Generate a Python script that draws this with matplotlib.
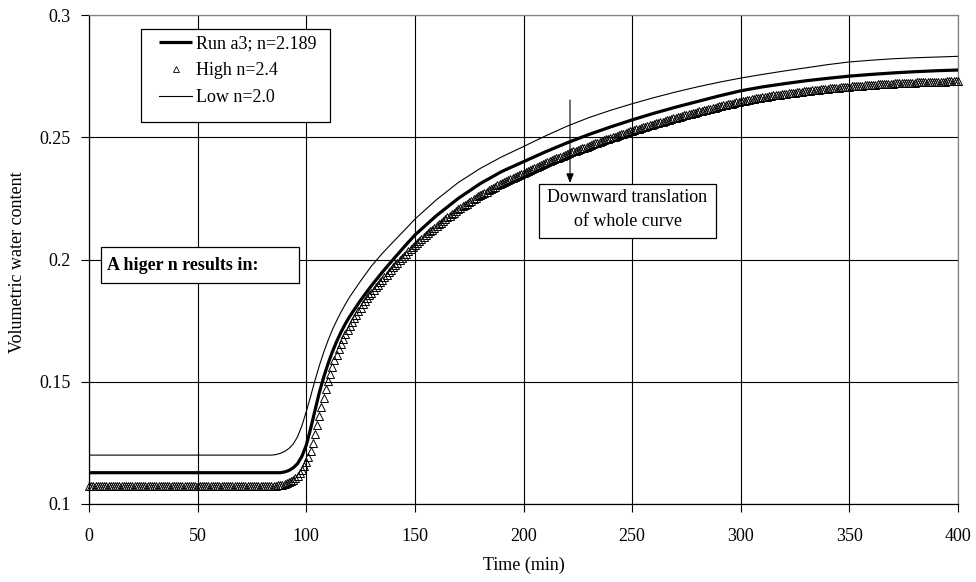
import numpy as np
import matplotlib
matplotlib.use("Agg")
import matplotlib.pyplot as plt
from matplotlib.patches import Rectangle
from matplotlib.lines import Line2D

plt.rcParams['font.family'] = ['Liberation Serif', 'DejaVu Serif']

# ---- data -------------------------------------------------------------
# Run a3 (fitted n = 2.189)
run_t = [0, 88, 90, 92, 94, 96, 98, 100, 102, 104, 106, 108, 110, 112, 114, 116,
         118, 120, 125, 130, 135, 140, 145, 150, 160, 170, 180, 190, 200, 210,
         220, 230, 240, 250, 260, 270, 280, 290, 300, 310, 320, 330, 340, 350,
         360, 370, 380, 390, 400]
run_theta = [0.1128, 0.1128, 0.1131, 0.1137, 0.1148, 0.1165, 0.1195, 0.1240,
             0.1308, 0.1382, 0.1455, 0.1518, 0.1573, 0.1622, 0.1665, 0.1703,
             0.1737, 0.1767, 0.1833, 0.1893, 0.1948, 0.2000, 0.2051, 0.2100,
             0.2180, 0.2250, 0.2310, 0.2360, 0.2400, 0.2440, 0.2477, 0.2511,
             0.2542, 0.2571, 0.2598, 0.2623, 0.2646, 0.2669, 0.2690, 0.2706,
             0.2719, 0.2731, 0.2741, 0.2750, 0.2757, 0.2763, 0.2768, 0.2772,
             0.2775]

# Low n = 2.0
low_t = [0, 84, 86, 88, 90, 92, 94, 96, 98, 100, 102, 104, 106, 108, 110, 112,
         114, 116, 118, 120, 125, 130, 135, 140, 145, 150, 160, 170, 180, 190,
         200, 210, 220, 230, 240, 250, 260, 270, 280, 290, 300, 310, 320, 330,
         340, 350, 360, 370, 380, 390, 400]
low_theta = [0.1200, 0.1200, 0.1202, 0.1207, 0.1215, 0.1227, 0.1245, 0.1275,
             0.1320, 0.1378, 0.1440, 0.1505, 0.1565, 0.1620, 0.1668, 0.1712,
             0.1750, 0.1785, 0.1817, 0.1847, 0.1912, 0.1973, 0.2025, 0.2072,
             0.2118, 0.2165, 0.2245, 0.2315, 0.2372, 0.2420, 0.2462, 0.2505,
             0.2545, 0.2580, 0.2610, 0.2637, 0.2662, 0.2685, 0.2706, 0.2725,
             0.2742, 0.2757, 0.2771, 0.2784, 0.2797, 0.2808, 0.2815, 0.2821,
             0.2825, 0.2828, 0.2831]

# High n = 2.4: one output value per minute, 0 - 400 min, shown as markers
high_t = np.arange(0, 401)
high_theta = [
    # 0 - 86 min
    0.1075, 0.1075, 0.1075, 0.1075, 0.1075, 0.1075, 0.1075, 0.1075, 0.1075, 0.1075,
    0.1075, 0.1075, 0.1075, 0.1075, 0.1075, 0.1075, 0.1075, 0.1075, 0.1075, 0.1075,
    0.1075, 0.1075, 0.1075, 0.1075, 0.1075, 0.1075, 0.1075, 0.1075, 0.1075, 0.1075,
    0.1075, 0.1075, 0.1075, 0.1075, 0.1075, 0.1075, 0.1075, 0.1075, 0.1075, 0.1075,
    0.1075, 0.1075, 0.1075, 0.1075, 0.1075, 0.1075, 0.1075, 0.1075, 0.1075, 0.1075,
    0.1075, 0.1075, 0.1075, 0.1075, 0.1075, 0.1075, 0.1075, 0.1075, 0.1075, 0.1075,
    0.1075, 0.1075, 0.1075, 0.1075, 0.1075, 0.1075, 0.1075, 0.1075, 0.1075, 0.1075,
    0.1075, 0.1075, 0.1075, 0.1075, 0.1075, 0.1075, 0.1075, 0.1075, 0.1075, 0.1075,
    0.1075, 0.1075, 0.1075, 0.1075, 0.1075, 0.1075, 0.1075,
    # 87 - 150 min
    0.1076, 0.1077, 0.1079, 0.1081, 0.1084, 0.1088, 0.1093, 0.1099, 0.1107,
    0.1116, 0.1127, 0.1140, 0.1154, 0.1170, 0.1192, 0.1218, 0.1250, 0.1285,
    0.1322, 0.1360, 0.1398, 0.1435, 0.1470, 0.1503, 0.1533, 0.1561, 0.1587,
    0.1611, 0.1634, 0.1655, 0.1675, 0.1694, 0.1712, 0.1729, 0.1745, 0.1760,
    0.1775, 0.1789, 0.1803, 0.1816, 0.1829, 0.1841, 0.1853, 0.1864, 0.1875,
    0.1886, 0.1897, 0.1907, 0.1917, 0.1928, 0.1938, 0.1948, 0.1958, 0.1968,
    0.1977, 0.1987, 0.1996, 0.2006, 0.2015, 0.2024, 0.2033, 0.2042, 0.2051,
    0.2060,
    # 151 - 400 min
    0.2068, 0.2076, 0.2084, 0.2092, 0.2100, 0.2107, 0.2115, 0.2122, 0.2130, 0.2137,
    0.2144, 0.2151, 0.2158, 0.2165, 0.2172, 0.2178, 0.2185, 0.2192, 0.2199, 0.2205,
    0.2211, 0.2217, 0.2223, 0.2229, 0.2235, 0.2240, 0.2246, 0.2252, 0.2258, 0.2263,
    0.2268, 0.2273, 0.2278, 0.2283, 0.2288, 0.2293, 0.2298, 0.2303, 0.2308, 0.2312,
    0.2317, 0.2321, 0.2325, 0.2329, 0.2334, 0.2338, 0.2342, 0.2346, 0.2350, 0.2354,
    0.2358, 0.2362, 0.2366, 0.2370, 0.2375, 0.2379, 0.2383, 0.2387, 0.2391, 0.2395,
    0.2399, 0.2402, 0.2406, 0.2410, 0.2414, 0.2417, 0.2421, 0.2424, 0.2428, 0.2431,
    0.2435, 0.2438, 0.2442, 0.2445, 0.2449, 0.2452, 0.2455, 0.2458, 0.2462, 0.2465,
    0.2468, 0.2471, 0.2475, 0.2478, 0.2481, 0.2484, 0.2488, 0.2491, 0.2494, 0.2497,
    0.2500, 0.2503, 0.2506, 0.2509, 0.2512, 0.2515, 0.2518, 0.2521, 0.2524, 0.2527,
    0.2530, 0.2532, 0.2535, 0.2538, 0.2541, 0.2543, 0.2546, 0.2549, 0.2552, 0.2554,
    0.2557, 0.2559, 0.2562, 0.2564, 0.2567, 0.2569, 0.2572, 0.2574, 0.2577, 0.2579,
    0.2582, 0.2584, 0.2587, 0.2589, 0.2592, 0.2594, 0.2596, 0.2598, 0.2601, 0.2603,
    0.2606, 0.2608, 0.2610, 0.2612, 0.2615, 0.2617, 0.2619, 0.2621, 0.2624, 0.2626,
    0.2628, 0.2630, 0.2632, 0.2634, 0.2636, 0.2638, 0.2641, 0.2643, 0.2645, 0.2647,
    0.2649, 0.2650, 0.2652, 0.2654, 0.2656, 0.2657, 0.2659, 0.2660, 0.2662, 0.2663,
    0.2665, 0.2666, 0.2668, 0.2669, 0.2671, 0.2672, 0.2673, 0.2674, 0.2676, 0.2677,
    0.2678, 0.2679, 0.2681, 0.2682, 0.2683, 0.2684, 0.2686, 0.2687, 0.2688, 0.2689,
    0.2690, 0.2691, 0.2692, 0.2693, 0.2694, 0.2695, 0.2696, 0.2697, 0.2698, 0.2699,
    0.2700, 0.2701, 0.2702, 0.2702, 0.2703, 0.2704, 0.2705, 0.2705, 0.2706, 0.2707,
    0.2708, 0.2708, 0.2709, 0.2710, 0.2711, 0.2711, 0.2712, 0.2713, 0.2714, 0.2714,
    0.2715, 0.2715, 0.2716, 0.2716, 0.2717, 0.2717, 0.2718, 0.2718, 0.2719, 0.2719,
    0.2720, 0.2720, 0.2721, 0.2721, 0.2722, 0.2722, 0.2722, 0.2722, 0.2723, 0.2723,
    0.2724, 0.2724, 0.2725, 0.2725, 0.2725, 0.2725, 0.2726, 0.2726, 0.2727, 0.2727,
    0.2728, 0.2728, 0.2728, 0.2728, 0.2729, 0.2729, 0.2729, 0.2729, 0.2730, 0.2730,
]

series_labels = ["Run a3; n=2.189", "High n=2.4", "Low n=2.0"]
x_ticks = [0, 50, 100, 150, 200, 250, 300, 350, 400]
y_ticks = [0.1, 0.15, 0.2, 0.25, 0.3]
y_tick_labels = ["0.1", "0.15", "0.2", "0.25", "0.3"]

# ---- figure -----------------------------------------------------------
W, H = 976, 582
fig = plt.figure(figsize=(W / 100, H / 100), dpi=100)
L, R, T, B = 89, 958, 15, 504
ax = fig.add_axes([L / W, 1 - B / H, (R - L) / W, (B - T) / H])


def px(x, y):
    """pixel position -> axes fraction"""
    return (x - L) / (R - L), (B - y) / (B - T)


FS = 13

ax.plot(low_t, low_theta, color='black', lw=0.8, zorder=3)
ax.plot(run_t, run_theta, color='black', lw=2.3, zorder=3,
        solid_capstyle='butt')
# hollow triangles: the overlapping outlines build up into a dark band
ax.plot(high_t, high_theta, linestyle='none', marker='^', markersize=5.5,
        markerfacecolor='none', markeredgecolor='black',
        markeredgewidth=0.7, zorder=3, clip_on=False)

ax.set_xlim(0, 400)
ax.set_ylim(0.1, 0.3)
ax.set_xticks(x_ticks)
ax.set_yticks(y_ticks)
ax.set_yticklabels(y_tick_labels)
ax.tick_params(axis='both', direction='out', length=6, width=0.8,
               labelsize=FS, color='black')
ax.tick_params(axis='x', pad=11)
ax.tick_params(axis='y', pad=7)
ax.grid(True, color='black', lw=0.8)
ax.set_axisbelow(True)

for side in ('top', 'right'):
    ax.spines[side].set_color('#808080')
    ax.spines[side].set_linewidth(0.9)
for side in ('left', 'bottom'):
    ax.spines[side].set_color('black')
    ax.spines[side].set_linewidth(0.9)

ax.set_xlabel("Time (min)", fontsize=FS)
ax.xaxis.label.set_va('center')
ax.xaxis.set_label_coords(0.5, px(0, 565)[1])
ax.set_ylabel("Volumetric water content", fontsize=FS)
ax.yaxis.label.set_va('center')
ax.yaxis.set_label_coords(px(18, 0)[0], px(0, 262)[1])

# legend frame and entries
lx0, ly0 = px(141, 122)
lx1, ly1 = px(330, 29)
ax.add_patch(Rectangle((lx0, ly0), lx1 - lx0, ly1 - ly0, transform=ax.transAxes,
                       facecolor='white', edgecolor='black', lw=0.9, zorder=4))
handles = [
    Line2D([], [], color='black', lw=2.3, solid_capstyle='butt'),
    Line2D([], [], linestyle='none', marker='^', markersize=4.6,
           markerfacecolor='white', markeredgecolor='black', markeredgewidth=0.6),
    Line2D([], [], color='black', lw=0.8),
]
hx, hy = px(159, 35)
leg = ax.legend(handles, series_labels, loc='upper left', bbox_to_anchor=(hx, hy),
                bbox_transform=ax.transAxes, frameon=False, fontsize=FS,
                borderpad=0, borderaxespad=0, handlelength=1.83,
                handletextpad=0.2, labelspacing=0.55, numpoints=1)
leg.set_zorder(5)

# note box on the left
bx0, by0 = px(101, 283)
bx1, by1 = px(299, 247)
ax.add_patch(Rectangle((bx0, by0), bx1 - bx0, by1 - by0, transform=ax.transAxes,
                       facecolor='white', edgecolor='black', lw=0.9, zorder=4))
tx, ty = px(107, 265)
ax.text(tx, ty, "A higer n results in:", transform=ax.transAxes, fontsize=FS,
        fontweight='bold', ha='left', va='center', zorder=5)

# note box with arrow
cx0, cy0 = px(539, 238)
cx1, cy1 = px(716, 184)
ax.add_patch(Rectangle((cx0, cy0), cx1 - cx0, cy1 - cy0, transform=ax.transAxes,
                       facecolor='white', edgecolor='black', lw=0.9, zorder=4))
mx = (cx0 + cx1) / 2
ax.text(mx, px(0, 198)[1], "Downward translation", transform=ax.transAxes,
        fontsize=FS, ha='center', va='center', zorder=5)
ax.text(mx, px(0, 222)[1], "of whole curve", transform=ax.transAxes,
        fontsize=FS, ha='center', va='center', zorder=5)
ax.annotate("", xy=px(570, 183), xytext=px(570, 100), xycoords='axes fraction',
            textcoords='axes fraction',
            arrowprops=dict(arrowstyle='-|>,head_length=0.55,head_width=0.22',
                            color='black', lw=0.8, shrinkA=0, shrinkB=0),
            zorder=5)

fig.savefig("out.png", dpi=100)
